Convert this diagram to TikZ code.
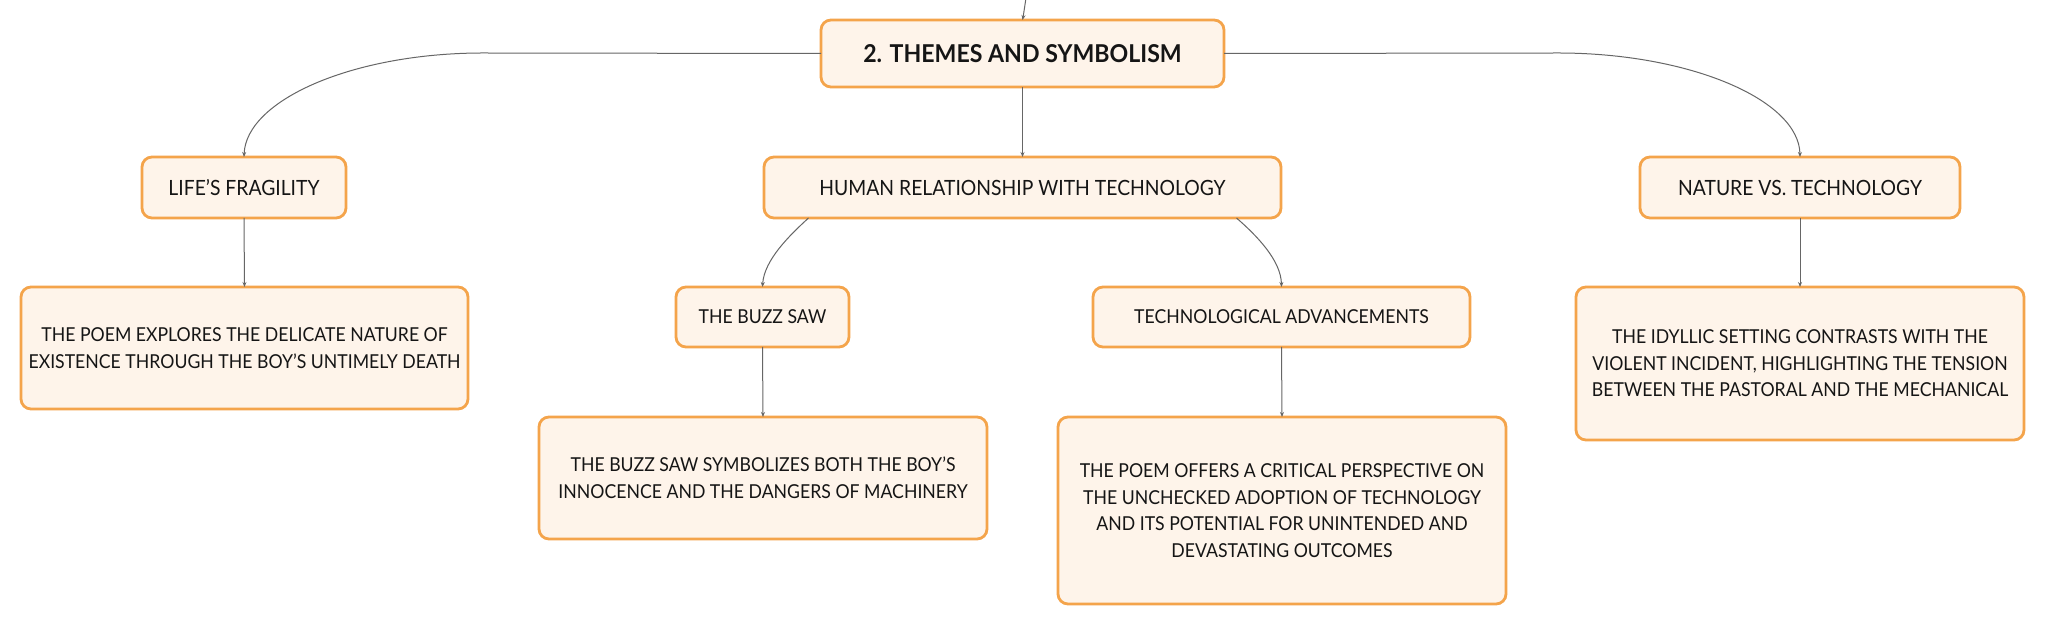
\documentclass[tikz,border=0pt]{standalone}
\usepackage{fontspec}
\setmainfont{Lato}[FakeStretch=0.92]
\newfontfamily\titlefont{Lato}[FakeStretch=0.94]
\usetikzlibrary{arrows.meta}
\definecolor{boxfill}{HTML}{FEF4EA}
\definecolor{boxline}{HTML}{F4A44B}
\definecolor{edgecol}{HTML}{666666}
\definecolor{txt}{HTML}{151515}
\begin{document}
\begin{tikzpicture}[x=0.5pt,y=-0.5pt,
  box/.style={draw=boxline, fill=boxfill, line width=1.4pt, rounded corners=5pt,
    align=center, text=txt, inner sep=0pt, outer sep=0pt,
    font=\fontsize{9.6}{13.3}\selectfont},
  levelbox/.style={box, font=\fontsize{10.5}{13.3}\selectfont},
  titlebox/.style={box, font=\titlefont\fontsize{12.3}{15}\selectfont\bfseries},
  conn/.style={draw=edgecol, line width=0.5pt, -{Stealth[length=2.5pt,width=2pt]}}
]
\fill[white] (0,0) rectangle (2046,624);
\useasboundingbox (0,0) rectangle (2046,624);

\node[titlebox, minimum width=201.5pt, minimum height=33.5pt] (top) at (1022.5,53.5) {2. THEMES AND SYMBOLISM};
\node[levelbox, minimum width=102pt, minimum height=30.5pt] (life) at (244,187.5) {LIFE'S FRAGILITY};
\node[levelbox, minimum width=258.5pt, minimum height=30.5pt] (human) at (1022.5,187.5) {HUMAN RELATIONSHIP WITH TECHNOLOGY};
\node[levelbox, minimum width=160pt, minimum height=30.5pt] (nature) at (1800,187.5) {NATURE VS. TECHNOLOGY};
\node[box, minimum width=223.5pt, minimum height=61pt] (lifed) at (244.5,348) {THE POEM EXPLORES THE DELICATE NATURE OF\\EXISTENCE THROUGH THE BOY'S UNTIMELY DEATH};
\node[box, minimum width=86.5pt, minimum height=30pt] (buzz) at (762.5,317) {THE BUZZ SAW};
\node[box, minimum width=188.5pt, minimum height=30pt] (tech) at (1281.5,317) {TECHNOLOGICAL ADVANCEMENTS};
\node[box, minimum width=224pt, minimum height=76.5pt] (natured) at (1800,363.5) {THE IDYLLIC SETTING CONTRASTS WITH THE\\VIOLENT INCIDENT, HIGHLIGHTING THE TENSION\\BETWEEN THE PASTORAL AND THE MECHANICAL};
\node[box, minimum width=224pt, minimum height=61pt] (buzzd) at (763,478) {THE BUZZ SAW SYMBOLIZES BOTH THE BOY'S\\INNOCENCE AND THE DANGERS OF MACHINERY};
\node[box, minimum width=224pt, minimum height=93.5pt] (techd) at (1282,510.5) {THE POEM OFFERS A CRITICAL PERSPECTIVE ON\\THE UNCHECKED ADOPTION OF TECHNOLOGY\\AND ITS POTENTIAL FOR UNINTENDED AND\\DEVASTATING OUTCOMES};

\coordinate (parent) at (1026,-2);
\draw[conn] (parent) .. controls (1025,8) .. (top.north);
\draw[conn] (top.west) -- (483,53) .. controls (353,53) and (246,100) .. (life.north);
\draw[conn] (top.east) -- (1558,53) .. controls (1690,53) and (1799,100) .. (nature.north);
\draw[conn] (top.south) -- (human.north);
\draw[conn] ([xshift=-107pt]human.south) .. controls (790,235) and (764,260) .. (buzz.north);
\draw[conn] ([xshift=107pt]human.south) .. controls (1256,235) and (1281,260) .. (tech.north);
\draw[conn] (life.south) -- (lifed.north);
\draw[conn] (nature.south) -- (natured.north);
\draw[conn] (buzz.south) -- (buzzd.north);
\draw[conn] (tech.south) -- (techd.north);
\end{tikzpicture}
\end{document}
